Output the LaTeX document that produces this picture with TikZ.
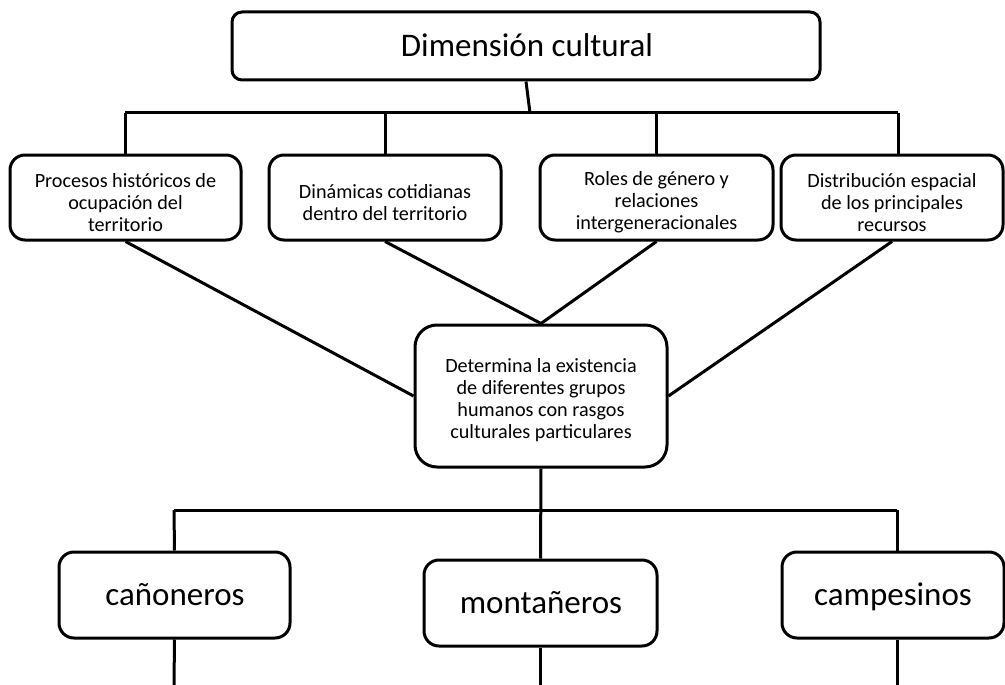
\documentclass[tikz,border=0pt]{standalone}
\usepackage{fontspec}
\setmainfont{Carlito}
\begin{document}
\begin{tikzpicture}[x=1pt,y=1pt,
  box/.style={draw=black, line width=3pt, fill=white, inner sep=0pt},
  txt/.style={align=center, inner sep=0pt},
  con/.style={draw=black, line width=3pt},
  midtxt/.style={txt, font=\fontsize{20.2}{22}\selectfont},
  bigtxt/.style={txt, font=\fontsize{33}{38}\selectfont}]
\useasboundingbox (0,0) rectangle (1005,-685);
% top
\node[box, rounded corners=10pt, minimum width=588pt, minimum height=68pt] (top) at (526,-46) {};
\node[txt, font=\fontsize{33}{38}\selectfont, anchor=base] (topt) at (527,-57) {Dimensión cultural};
% row 2
\node[box, rounded corners=15pt, minimum width=231pt, minimum height=85pt] (p1) at (125.5,-197.5) {};
\node[midtxt] (p1t) at ([yshift=-5pt]p1.center) {Procesos históricos de\\ocupación del\\territorio};
\node[box, rounded corners=15pt, minimum width=232pt, minimum height=85pt] (p2) at (385,-197.5) {};
\node[midtxt] (p2t) at ([yshift=-5pt]p2.center) {Dinámicas cotidianas\\dentro del territorio};
\node[box, rounded corners=15pt, minimum width=233pt, minimum height=85pt] (p3) at (656.5,-197.5) {};
\node[midtxt] (p3t) at ([yshift=-5pt]p3.center) {Roles de género y\\relaciones\\intergeneracionales};
\node[box, rounded corners=15pt, minimum width=222pt, minimum height=85pt] (p4) at (892,-197.5) {};
\node[midtxt] (p4t) at ([yshift=-5pt]p4.center) {Distribución espacial\\de los principales\\recursos};
% center
\node[box, rounded corners=22pt, minimum width=252pt, minimum height=142pt] (c) at (541,-396) {};
\node[midtxt] (ct) at ([yshift=-4pt]c.center) {Determina la existencia\\de diferentes grupos\\humanos con rasgos\\culturales particulares};
% bottom
\node[box, rounded corners=15pt, minimum width=231pt, minimum height=86pt] (b1) at (174.5,-595) {};
\node[bigtxt, anchor=base] (b1t) at (175,-605) {cañoneros};
\node[box, rounded corners=15pt, minimum width=233pt, minimum height=86pt] (b2) at (540.5,-603) {};
\node[bigtxt, anchor=base] (b2t) at (541,-613) {montañeros};
\node[box, rounded corners=15pt, minimum width=222pt, minimum height=86pt] (b3) at (893,-595) {};
\node[bigtxt, anchor=base] (b3t) at (893,-605) {campesinos};
% connector points
\coordinate (hm) at (530,-113);
\coordinate (h1) at (125,-113);
\coordinate (h4) at (898,-113);
\coordinate (g1) at (174,-510);
\coordinate (g3) at (897,-510);
\coordinate (e1) at (174,-685);
\coordinate (e2) at (540.5,-685);
\coordinate (e3) at (897,-685);
% connectors top
\draw[con] (top.south) -- (hm);
\draw[con] (h1) -- (h4);
\draw[con] (h1) -- (h1 |- p1.north);
\draw[con] (p2.north |- h1) -- (p2.north);
\draw[con] (p3.north |- h1) -- (p3.north);
\draw[con] (h4) -- (h4 |- p4.north);
% diagonals
\draw[con] (p1.south) -- (c.west);
\draw[con] (p2.south) -- (c.north);
\draw[con] (p3.south) -- (c.north);
\draw[con] (p4.south) -- (c.east);
% bottom
\draw[con] (c.south) -- (b2.north);
\draw[con] (g1) -- (g3);
\draw[con] (g1) -- (b1.north);
\draw[con] (g3) -- (g3 |- b3.north);
\draw[con] (b1.south) -- (e1);
\draw[con] (b2.south) -- (e2);
\draw[con] (e3 |- b3.south) -- (e3);
\end{tikzpicture}
\end{document}
